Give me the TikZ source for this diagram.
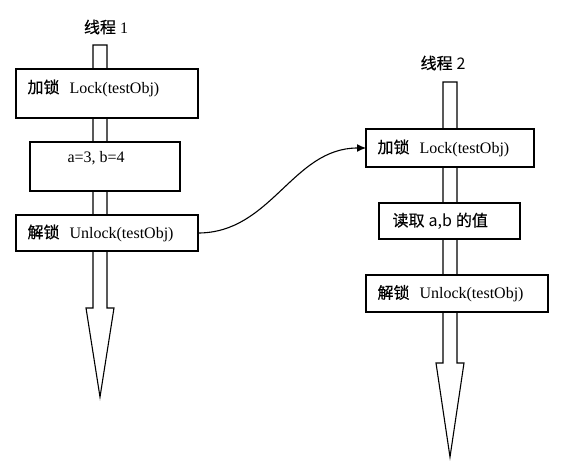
\documentclass[tikz,border=0pt]{standalone}
\usepackage{fontspec}
\setmainfont{Liberation Serif}
\newfontfamily\cjk[FakeBold=0.5]{Noto Sans CJK SC}
\newfontfamily\cjklat{Noto Sans CJK SC}
\usetikzlibrary{arrows.meta}
\begin{document}
\begin{tikzpicture}[x=1pt,y=-1pt, line width=1.1pt,
  box/.style={draw, fill=white, inner sep=0pt, outer sep=0pt},
  txt/.style={anchor=west, inner sep=0pt, font=\fontsize{16}{19}\selectfont},
  ttl/.style={inner sep=0pt, font=\fontsize{16}{19}\selectfont},
  flow/.style={draw, fill=white, line join=miter},
  link/.style={-{Latex[length=9pt,width=8pt]}, line width=1.1pt}]
\useasboundingbox (0,0) rectangle (580,471);
\fill[white] (0,0) rectangle (580,471);

% titles
\node[ttl] (h1) at (106,27) {{\cjk 线程} 1};
\node[ttl] (h2) at (443,63) {{\cjk 线程} {\cjklat 2}};

% thread arrows
\draw[flow] (93,45) -- (107,45) -- (107,308) -- (114,308) -- (100,397) -- (86,308) -- (93,308) -- cycle;
\draw[flow] (443,82) -- (457,82) -- (457,363) -- (464,363) -- (450,457) -- (436,363) -- (443,363) -- cycle;

% thread 1 boxes
\node[box, minimum width=182pt, minimum height=49pt] (b1) at (107,93.5) {};
\node[box, minimum width=150pt, minimum height=49pt] (b2) at (105,166.5) {};
\node[box, minimum width=182pt, minimum height=36pt] (b3) at (107,233) {};
\node[txt] (t1) at (27,88) {{\cjk 加锁}\hspace{10pt}Lock(testObj)};
\node[txt] (t2) at (67,158) {a=3, b=4};
\node[txt] (t3) at (27,233) {{\cjk 解锁}\hspace{10pt}Unlock(testObj)};

% thread 2 boxes
\node[box, minimum width=168pt, minimum height=38pt] (r1) at (450,148) {};
\node[box, minimum width=141pt, minimum height=36pt] (r2) at (449.5,221) {};
\node[box, minimum width=182pt, minimum height=37pt] (r3) at (457,293.5) {};
\node[txt] (s1) at (377,148) {{\cjk 加锁}\hspace{10pt}Lock(testObj)};
\node[txt] (s2) at (392,221) {{\cjk 读取} {\cjklat a,b} {\cjk 的值}};
\node[txt] (s3) at (377,293.5) {{\cjk 解锁}\hspace{10pt}Unlock(testObj)};

% connector
\draw[link] (b3.east) to[out=0,in=180] (r1.west);
\end{tikzpicture}
\end{document}
